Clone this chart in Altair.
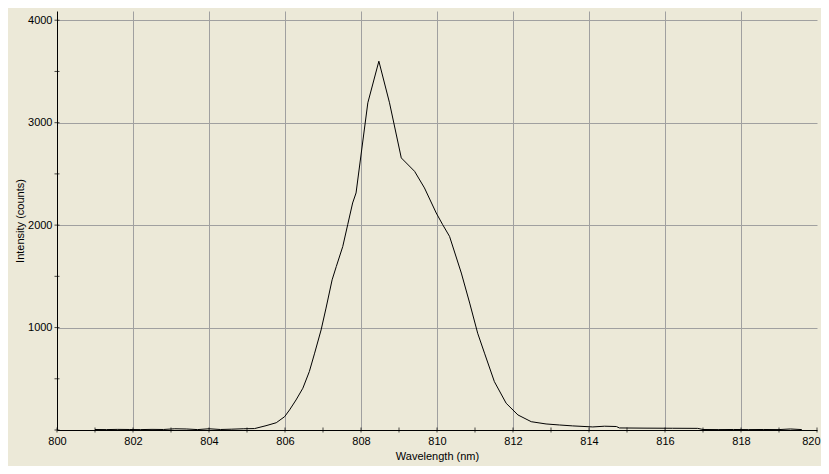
import altair as alt
import pandas as pd

wavelength = [801.0, 801.3, 801.6, 801.9, 802.2, 802.5, 802.8, 803.1, 803.4, 803.7,
              804.0, 804.3, 804.6, 804.9, 805.2, 805.5, 805.77, 805.99, 806.12, 806.29,
              806.47, 806.64, 806.78, 806.95, 807.08, 807.24, 807.35, 807.52, 807.65, 807.78,
              807.87, 808.18, 808.47, 808.75, 809.06, 809.41, 809.67, 809.98, 810.15, 810.33,
              810.64, 810.86, 811.07, 811.25, 811.51, 811.82, 812.13, 812.48, 812.87, 813.22,
              813.57, 814.1, 814.41, 814.72, 814.8, 815.5, 816.2, 816.86, 817.0, 817.4,
              817.8, 818.2, 818.6, 819.0, 819.3, 819.6]
intensity = [5, 4, 6, 5, 4, 6, 5, 12, 10, 4,
             12, 5, 8, 12, 14, 42, 71, 130, 196, 293,
             408, 570, 750, 977, 1190, 1466, 1596, 1791, 2004, 2216,
             2314, 3194, 3600, 3194, 2656, 2525, 2363, 2118, 2004, 1890,
             1532, 1239, 945, 750, 472, 261, 147, 81, 59, 49,
             40, 30, 37, 34, 20, 18, 17, 16, 5, 4,
             5, 4, 5, 4, 10, 4]

x_label_values = list(range(800, 821, 2))
y_label_values = [1000, 2000, 3000, 4000]
x_tick_values = list(range(800, 821, 1))
y_tick_values = list(range(0, 4001, 500))

BG = "#ECE9D8"
GRID = "#A0A0A0"
FONT = "Liberation Sans"

df = pd.DataFrame({"Wavelength": wavelength, "Intensity": intensity})
xs = alt.Scale(domain=[800, 820], nice=False, zero=False)
ys = alt.Scale(domain=[0, 4090], nice=False)

x_axis = alt.Axis(
    values=x_label_values, title="Wavelength (nm)", format="d", grid=True,
    gridOpacity={"condition": {"test": "datum.value == 800 || datum.value == 820", "value": 0}, "value": 1},
    labelAlign={"condition": {"test": "datum.value == 820", "value": "right"}, "value": "center"},
    labelOffset={"condition": {"test": "datum.value == 820", "value": 3}, "value": 0},
    ticks=False, labelPadding=5, titlePadding=4,
)
y_axis = alt.Axis(
    values=y_label_values, title="Intensity (counts)", format="d", grid=True,
    ticks=False, labelPadding=5, titlePadding=2,
)

line = alt.Chart(df).mark_line(color="black", strokeWidth=1).encode(
    x=alt.X("Wavelength:Q", scale=xs, axis=x_axis),
    y=alt.Y("Intensity:Q", scale=ys, axis=y_axis),
)

xticks = alt.Chart(pd.DataFrame({"Wavelength": x_tick_values})).mark_tick(
    orient="vertical", size=5, thickness=1, color="black"
).encode(
    x=alt.X("Wavelength:Q", scale=xs, axis=x_axis),
    y=alt.datum(0),
)

yticks = alt.Chart(pd.DataFrame({"Intensity": y_tick_values})).mark_tick(
    orient="horizontal", size=5, thickness=1, color="black"
).encode(
    x=alt.datum(800),
    y=alt.Y("Intensity:Q", scale=ys, axis=y_axis),
)

chart = alt.layer(line, xticks, yticks).properties(
    width=760, height=419,
    autosize=alt.AutoSizeParams(type="none"),
    padding={"left": 49, "top": 3, "right": 4, "bottom": 36},
    background=BG,
).configure_view(
    stroke=None, fill=BG
).configure_axis(
    labelFont=FONT, titleFont=FONT, labelFontSize=11, titleFontSize=11,
    titleFontWeight="normal", labelColor="black", titleColor="black",
    domainColor="black", domainWidth=1, gridColor=GRID, gridWidth=1,
)

chart.save("out.html", embed_options={"renderer": "svg", "actions": False})
